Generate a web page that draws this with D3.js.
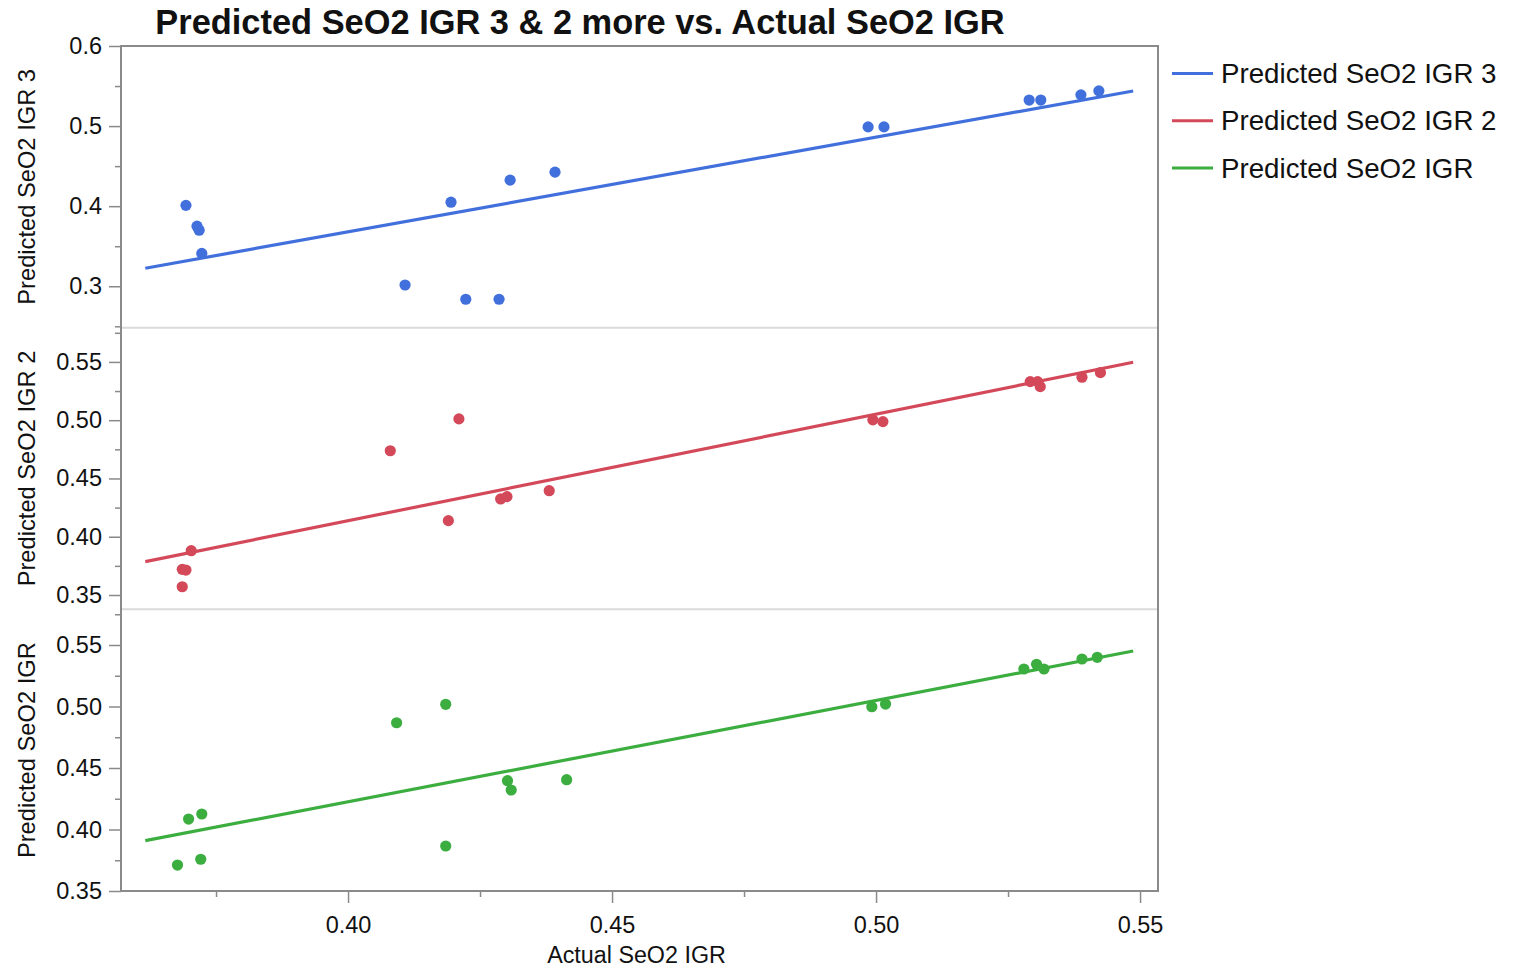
<!DOCTYPE html>
<html>
<head>
<meta charset="utf-8">
<script src="https://cdn.jsdelivr.net/npm/d3@7"></script>
<style>
  body { margin: 0; background: #fff; }
  text { font-family: "Liberation Sans", Arial, Helvetica, sans-serif; fill: #111; }
</style>
</head>
<body>
<svg id="chart"></svg>
<script>
// Points: actual (x) and predicted (y) per panel
const actualIGR3 = [0.3693, 0.3714, 0.3718, 0.3723, 0.4108, 0.4195, 0.4223, 0.4286, 0.4307, 0.4392,
  0.4985, 0.5015, 0.5290, 0.5312, 0.5388, 0.5422];
const predIGR3 = [0.401, 0.375, 0.370, 0.341, 0.3016, 0.405, 0.2838, 0.2838, 0.4325, 0.4425,
  0.499, 0.499, 0.5325, 0.5325, 0.539, 0.544];

const actualIGR2 = [0.3686, 0.3686, 0.3693, 0.3703, 0.4080, 0.4190, 0.4210, 0.4289, 0.4301, 0.4381,
  0.4994, 0.5013, 0.5292, 0.5306, 0.5311, 0.5390, 0.5425];
const predIGR2 = [0.3571, 0.372, 0.3714, 0.388, 0.4738, 0.4138, 0.5011, 0.4324, 0.4344, 0.4395,
  0.5003, 0.4988, 0.5331, 0.5331, 0.5288, 0.5369, 0.5408];

const actualIGR = [0.3677, 0.3698, 0.3721, 0.3723, 0.4092, 0.4185, 0.4185, 0.4302, 0.4309, 0.4414,
  0.4992, 0.5018, 0.5280, 0.5304, 0.5318, 0.5390, 0.5419];
const predIGR = [0.3711, 0.4085, 0.3758, 0.4126, 0.4868, 0.5018, 0.3866, 0.4397, 0.4321, 0.4405,
  0.4998, 0.5020, 0.5305, 0.5343, 0.5305, 0.5386, 0.5400];

// Fitted lines (end points)
const fitX = [0.3616, 0.5487];
const fitIGR3 = [0.3225, 0.5438];
const fitIGR2 = [0.3786, 0.5497];
const fitIGR = [0.3909, 0.5451];

const seriesNames = ['Predicted SeO2 IGR 3', 'Predicted SeO2 IGR 2', 'Predicted SeO2 IGR'];
const seriesColors = ['#4170dd', '#d4495a', '#3cae40'];

// Tick values
const xTicks = [0.40, 0.45, 0.50, 0.55];
const xMinorTicks = [0.375, 0.425, 0.475, 0.525];
const yTicksTop = [0.3, 0.4, 0.5, 0.6];
const yMinorTop = [0.25, 0.35, 0.45, 0.55];
const yTicks = [0.35, 0.40, 0.45, 0.50, 0.55];
const yMinor = [0.375, 0.425, 0.475, 0.525, 0.575];

const xDomain = [0.3570, 0.5534];
const yDomains = [[0.2483, 0.6], [0.3377, 0.5794], [0.35, 0.579]];

// Layout
const W = 1516, H = 967;
const plot = { left: 121, right: 1158, top: 46, bottom: 891 };
const panelH = (plot.bottom - plot.top) / 3;
const frameColor = '#8a8a8a';
const tickFont = '23.5px';

const svg = d3.select('#chart')
  .attr('width', W)
  .attr('height', H);

const xScale = d3.scaleLinear()
  .domain(xDomain)
  .range([plot.left, plot.right]);

const panels = [
  { xs: actualIGR3, ys: predIGR3, fit: fitIGR3, ticks: yTicksTop, minor: yMinorTop, fmt: d3.format('.1f') },
  { xs: actualIGR2, ys: predIGR2, fit: fitIGR2, ticks: yTicks, minor: yMinor, fmt: d3.format('.2f') },
  { xs: actualIGR, ys: predIGR, fit: fitIGR, ticks: yTicks, minor: yMinor, fmt: d3.format('.2f') }
];

panels.forEach((p, i) => {
  const top = plot.top + i * panelH;
  const bottom = top + panelH;
  const color = seriesColors[i];

  const yScale = d3.scaleLinear()
    .domain(yDomains[i])
    .range([bottom, top]);

  // separator between panels
  if (i > 0) {
    svg.append('line')
      .attr('x1', plot.left).attr('x2', plot.right)
      .attr('y1', top).attr('y2', top)
      .attr('stroke', '#dadada')
      .attr('stroke-width', 2);
  }

  // minor ticks
  const minorAxis = svg.append('g')
    .attr('transform', `translate(${plot.left},0)`)
    .call(d3.axisLeft(yScale).tickValues(p.minor).tickSize(6).tickFormat(''));
  minorAxis.select('.domain').remove();

  // major ticks with labels
  const yAxis = svg.append('g')
    .attr('transform', `translate(${plot.left},0)`)
    .call(d3.axisLeft(yScale).tickValues(p.ticks).tickSize(12).tickPadding(7).tickFormat(p.fmt));
  yAxis.select('.domain').remove();
  yAxis.selectAll('text')
    .style('font-size', tickFont)
    .style('font-family', '"Liberation Sans", Arial, sans-serif')
    .attr('fill', '#111');

  [minorAxis, yAxis].forEach(g => g.selectAll('line')
    .attr('stroke', frameColor)
    .attr('stroke-width', 1.5));

  // y axis title
  svg.append('text')
    .attr('transform', `translate(35,${(top + bottom) / 2}) rotate(-90)`)
    .attr('text-anchor', 'middle')
    .style('font-size', '23.7px')
    .text(seriesNames[i]);

  // fit line
  svg.append('line')
    .attr('x1', xScale(fitX[0])).attr('y1', yScale(p.fit[0]))
    .attr('x2', xScale(fitX[1])).attr('y2', yScale(p.fit[1]))
    .attr('stroke', color)
    .attr('stroke-width', 3.2);

  // points
  svg.append('g')
    .selectAll('circle')
    .data(p.xs.map((x, j) => [x, p.ys[j]]))
    .enter()
    .append('circle')
    .attr('cx', d => xScale(d[0]))
    .attr('cy', d => yScale(d[1]))
    .attr('r', 5.6)
    .attr('fill', color);
});

// x axis
const xMinorAxis = svg.append('g')
  .attr('transform', `translate(0,${plot.bottom})`)
  .call(d3.axisBottom(xScale).tickValues(xMinorTicks).tickSize(6).tickFormat(''));
xMinorAxis.select('.domain').remove();

const xAxis = svg.append('g')
  .attr('transform', `translate(0,${plot.bottom})`)
  .call(d3.axisBottom(xScale).tickValues(xTicks).tickSize(12).tickPadding(13).tickFormat(d3.format('.2f')));
xAxis.select('.domain').remove();
xAxis.selectAll('text')
  .style('font-size', tickFont)
  .style('font-family', '"Liberation Sans", Arial, sans-serif')
  .attr('fill', '#111');

[xMinorAxis, xAxis].forEach(g => g.selectAll('line')
  .attr('stroke', frameColor)
  .attr('stroke-width', 1.5));

svg.append('text')
  .attr('x', (plot.left + plot.right) / 2 - 3)
  .attr('y', 963)
  .attr('text-anchor', 'middle')
  .style('font-size', '23.3px')
  .text('Actual SeO2 IGR');

// frame round the plot area
svg.append('rect')
  .attr('x', plot.left).attr('y', plot.top)
  .attr('width', plot.right - plot.left)
  .attr('height', plot.bottom - plot.top)
  .attr('fill', 'none')
  .attr('stroke', frameColor)
  .attr('stroke-width', 2);

// title
svg.append('text')
  .attr('x', 580)
  .attr('y', 34)
  .attr('text-anchor', 'middle')
  .style('font-size', '34.4px')
  .style('font-weight', 'bold')
  .text('Predicted SeO2 IGR 3 & 2 more vs. Actual SeO2 IGR');

// legend
const legend = svg.append('g')
  .attr('transform', 'translate(1172,73.5)');

seriesNames.forEach((name, i) => {
  const row = legend.append('g')
    .attr('transform', `translate(0,${i * 47.2})`);
  row.append('line')
    .attr('x1', 0).attr('x2', 41)
    .attr('stroke', seriesColors[i])
    .attr('stroke-width', 3);
  row.append('text')
    .attr('x', 49)
    .attr('dy', '0.35em')
    .style('font-size', '27.7px')
    .text(name);
});
</script>
</body>
</html>
